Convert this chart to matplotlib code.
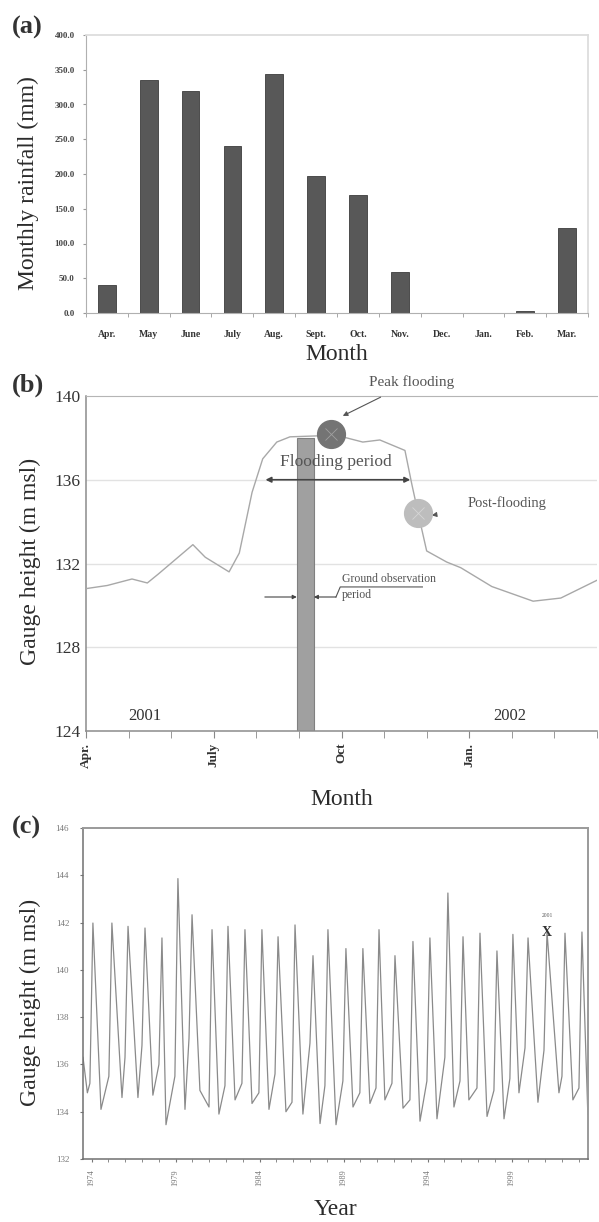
import matplotlib
matplotlib.use('Agg')
import matplotlib.pyplot as plt
from matplotlib.ticker import FixedLocator, MultipleLocator

plt.rcParams['font.family'] = ['Liberation Serif', 'DejaVu Serif']

# (a) monthly rainfall
months_a = ['Apr.', 'May', 'June', 'July', 'Aug.', 'Sept.', 'Oct.', 'Nov.',
            'Dec.', 'Jan.', 'Feb.', 'Mar.']
rain = [40, 335, 320, 241, 344, 197, 170, 59, 0, 0, 3, 123]

# (b) gauge height, months counted from 1 Apr 2001
b_month = [0.0, 0.5, 1.08, 1.44, 1.7, 2.51, 2.8, 3.36, 3.6, 3.9, 4.15, 4.48,
           4.79, 5.5, 5.75, 6.12, 6.5, 6.9, 7.49, 7.65, 7.8, 8.0, 8.47, 8.8,
           9.53, 10.5, 11.15, 12.0]
b_level = [130.8, 130.95, 131.26, 131.07, 131.5, 132.9, 132.3, 131.6, 132.5,
           135.4, 137.0, 137.8, 138.05, 138.1, 138.2, 138.0, 137.8, 137.9,
           137.4, 135.8, 134.4, 132.6, 132.07, 131.8, 130.9, 130.2, 130.35,
           131.2]
b_ticks = [0, 3, 6, 9]
b_tick_labels = ['Apr.', 'July', 'Oct', 'Jan.']
obs_period = (4.95, 5.35)
obs_top = 138.0
peak_flood = (5.75, 138.2)
post_flood = (7.8, 134.4)
flood_period = (4.15, 7.68)

# (c) long gauge record: yearly peaks, following lows and pre-rise levels
peak_t = [1974.08, 1975.21, 1976.17, 1977.18, 1978.19, 1979.14, 1979.98,
          1981.17, 1982.12, 1983.13, 1984.14, 1985.10, 1986.11, 1987.18,
          1988.07, 1989.14, 1990.15, 1991.11, 1992.06, 1993.13, 1994.14,
          1995.21, 1996.11, 1997.12, 1998.13, 1999.08, 1999.98, 2001.11,
          2002.18, 2003.19]
peak_h = [141.98, 141.98, 141.84, 141.77, 141.35, 143.86, 142.33, 141.7,
          141.84, 141.7, 141.7, 141.4, 141.9, 140.6, 141.7, 140.9, 140.9,
          141.7, 140.6, 141.2, 141.35, 143.25, 141.4, 141.55, 140.8, 141.5,
          141.35, 141.6, 141.55, 141.6]
low_t = [1974.56, 1975.81, 1976.76, 1977.65, 1978.43, 1979.56, 1980.45,
         1981.58, 1982.54, 1983.55, 1984.56, 1985.57, 1986.58, 1987.60,
         1988.55, 1989.56, 1990.57, 1991.46, 1992.54, 1993.55, 1994.56,
         1995.57, 1996.46, 1997.54, 1998.55, 1999.44, 2000.57, 2001.82,
         2002.65, 2003.54]
low_h = [134.1, 134.6, 134.6, 134.7, 133.45, 134.1, 134.9, 133.9, 134.5,
         134.35, 134.1, 134.0, 133.9, 133.5, 133.45, 134.2, 134.35, 134.5,
         134.15, 133.6, 133.7, 134.2, 134.5, 133.8, 133.7, 134.8, 134.4,
         134.8, 134.5, 133.9]
rise_h = [135.2, 135.5, 136.3, 136.8, 136.0, 135.5, 137.1, 134.2, 135.1,
          135.2, 134.8, 135.6, 134.4, 136.9, 135.1, 135.3, 134.8, 135.0,
          135.2, 134.5, 135.3, 136.3, 135.3, 135.0, 134.9, 135.4, 136.7,
          136.6, 135.5, 135.0]
start_t = [1973.49, 1973.75]
start_h = [136.3, 134.8]
c_label_years = [1974, 1979, 1984, 1989, 1994, 1999]
mark_year = 2001

fig = plt.figure(figsize=(5.99, 12.22), dpi=100)
W, H = 599.0, 1222.0


def box(l, t, r, b):
    return [l / W, 1 - b / H, (r - l) / W, (b - t) / H]


lab_fs = 17
dark = '#2b2b2b'

# ---------------- (a)
ax1 = fig.add_axes(box(86, 35, 588, 313))
ax1.bar(range(len(rain)), rain, width=0.42, color='#585858',
        edgecolor='#3c3c3c', linewidth=0.6)
ax1.set_xlim(-0.5, 11.5)
ax1.set_ylim(0, 400)
ax1.set_yticks(range(0, 401, 50))
ax1.set_yticklabels(['{:.1f}'.format(v) for v in range(0, 401, 50)],
                    fontsize=6.5, fontweight='bold', color='#444444')
ax1.set_xticks(range(12))
ax1.set_xticklabels(months_a, fontsize=7, fontweight='bold', color='#333333')
ax1.xaxis.set_minor_locator(FixedLocator([i - 0.5 for i in range(13)]))
ax1.tick_params(axis='x', which='major', length=0, pad=12)
ax1.tick_params(axis='x', which='minor', length=3, color='#999999')
ax1.tick_params(axis='y', length=2, color='#999999', pad=6)
for s in ['left', 'bottom']:
    ax1.spines[s].set_color('#b0b0b0')
for s in ['top', 'right']:
    ax1.spines[s].set_color('#dddddd')
    ax1.spines[s].set_linewidth(1.3)
ax1.set_ylabel('Monthly rainfall (mm)', fontsize=lab_fs, color=dark)
ax1.yaxis.set_label_coords(-0.093, 0.468)
ax1.set_xlabel('Month', fontsize=lab_fs, color=dark)
ax1.xaxis.set_label_coords(0.5, -0.112)
fig.text(12 / W, 1 - 27 / H, '(a)', fontsize=19, fontweight='bold',
         va='center', ha='left', color='#333333')

# ---------------- (b)
ax2 = fig.add_axes(box(86, 396, 597, 731))
ax2.set_xlim(0, 12)
ax2.set_ylim(124, 140)
for g in [128, 132, 136]:
    ax2.axhline(g, color='#e2e2e2', lw=1.0, zorder=0)
ax2.bar((obs_period[0] + obs_period[1]) / 2, obs_top - 124, bottom=124,
        width=obs_period[1] - obs_period[0], color='#a0a0a0',
        edgecolor='#808080', linewidth=0.8, zorder=2)
ax2.plot(b_month, b_level, color='#a8a8a8', lw=1.0, zorder=3)
ax2.plot(*peak_flood, marker='o', ms=20, color='#747474', zorder=4)
ax2.plot(*peak_flood, marker='x', ms=9, mew=0.6, color='#a0a0a0', zorder=5)
ax2.plot(*post_flood, marker='o', ms=20, color='#bdbdbd', zorder=4)
ax2.plot(*post_flood, marker='x', ms=9, mew=0.6, color='#d6d6d6', zorder=5)

ax2.annotate('', xy=(flood_period[0], 136.0), xytext=(flood_period[1], 136.0),
             arrowprops=dict(arrowstyle='<|-|>', color='#444444', lw=1.2,
                             mutation_scale=8), zorder=6)
ax2.text(5.87, 136.85, 'Flooding period', fontsize=12.5, color='#555555',
         ha='center', va='center', zorder=6)
ax2.annotate('Peak flooding', xy=(6.03, 139.05), xytext=(7.64, 140.67),
             fontsize=11, color='#555555', ha='center', va='center',
             annotation_clip=False,
             arrowprops=dict(arrowstyle='-|>', color='#555555', lw=0.8,
                             mutation_scale=7, shrinkA=9, shrinkB=0))
ax2.annotate('Post-flooding', xy=(8.12, 134.3), xytext=(9.88, 134.9),
             fontsize=10.5, color='#555555', ha='center', va='center',
             arrowprops=dict(arrowstyle='-|>', color='#555555', lw=0.8,
                             mutation_scale=7, shrinkA=22, shrinkB=0))
ax2.annotate('', xy=(obs_period[0], 130.4), xytext=(4.2, 130.4),
             arrowprops=dict(arrowstyle='-|>', color='#444444', lw=0.8,
                             mutation_scale=6, shrinkA=0, shrinkB=0))
ax2.annotate('', xy=(obs_period[1], 130.4), xytext=(5.87, 130.4),
             arrowprops=dict(arrowstyle='-|>', color='#444444', lw=0.8,
                             mutation_scale=6, shrinkA=0, shrinkB=0))
ax2.plot([5.87, 5.97, 7.9], [130.4, 130.88, 130.88], color='#555555', lw=0.8)
ax2.text(6.0, 130.95, 'Ground observation', fontsize=8.5, color='#555555',
         ha='left', va='bottom')
ax2.text(6.0, 130.8, 'period', fontsize=8.5, color='#555555',
         ha='left', va='top')
ax2.text(1.38, 124.7, '2001', fontsize=12, color='#333333', ha='center',
         va='center')
ax2.text(9.95, 124.7, '2002', fontsize=12, color='#333333', ha='center',
         va='center')

ax2.set_xticks(b_ticks)
ax2.set_xticklabels(b_tick_labels, rotation=90, fontsize=9.5,
                    fontweight='bold', color='#333333')
ax2.xaxis.set_minor_locator(MultipleLocator(1))
ax2.tick_params(axis='x', which='both', length=5, color='#888888')
ax2.set_yticks([124, 128, 132, 136, 140])
ax2.tick_params(axis='y', length=0, labelsize=12.5, labelcolor='#333333',
                pad=4)
ax2.spines['right'].set_visible(False)
ax2.spines['top'].set_color('#b5b5b5')
for s in ['left', 'bottom']:
    ax2.spines[s].set_color('#8c8c8c')
    ax2.spines[s].set_linewidth(1.1)
ax2.set_ylabel('Gauge height (m msl)', fontsize=lab_fs, color=dark)
ax2.yaxis.set_label_coords(-0.088, 0.507)
ax2.set_xlabel('Month', fontsize=lab_fs, color=dark)
ax2.xaxis.set_label_coords(0.5, -0.173)
fig.text(12 / W, 1 - 385 / H, '(b)', fontsize=19, fontweight='bold',
         va='center', ha='left', color='#333333')

# ---------------- (c)
ax3 = fig.add_axes(box(83, 828, 588, 1159))
t_c = list(start_t)
h_c = list(start_h)
for i in range(len(peak_t)):
    t_c += [peak_t[i] - 0.18, peak_t[i], low_t[i]]
    h_c += [rise_h[i], peak_h[i], low_h[i]]
ax3.plot(t_c, h_c, color='#8a8a8a', lw=0.9)
k = peak_t.index(min(peak_t, key=lambda v: abs(v - mark_year - 0.1)))
ax3.text(peak_t[k], peak_h[k], 'X', fontsize=10, fontweight='bold',
         color='#333333', ha='center', va='center')
ax3.text(peak_t[k], peak_h[k] + 0.7, str(mark_year), fontsize=4,
         color='#555555', ha='center', va='center')
ax3.set_xlim(1973.49, 2003.55)
ax3.set_ylim(132, 146)
ax3.set_yticks(range(132, 147, 2))
ax3.tick_params(axis='y', length=2, labelsize=6.5, labelcolor='#777777',
                color='#777777', pad=8)
ax3.set_xticks(c_label_years)
ax3.set_xticklabels([str(y) for y in c_label_years], rotation=90,
                    fontsize=6, color='#777777')
ax3.xaxis.set_minor_locator(MultipleLocator(1))
ax3.tick_params(axis='x', which='both', length=2.5, color='#777777', pad=5)
for s in ['left', 'bottom']:
    ax3.spines[s].set_color('#707070')
    ax3.spines[s].set_linewidth(1.1)
for s in ['top', 'right']:
    ax3.spines[s].set_color('#9a9a9a')
    ax3.spines[s].set_linewidth(1.4)
ax3.set_ylabel('Gauge height (m msl)', fontsize=lab_fs, color=dark)
ax3.yaxis.set_label_coords(-0.083, 0.474)
ax3.set_xlabel('Year', fontsize=lab_fs, color=dark)
ax3.xaxis.set_label_coords(0.5, -0.121)
fig.text(12 / W, 1 - 827 / H, '(c)', fontsize=19, fontweight='bold',
         va='center', ha='left', color='#333333')

fig.savefig('out.png', dpi=100)
